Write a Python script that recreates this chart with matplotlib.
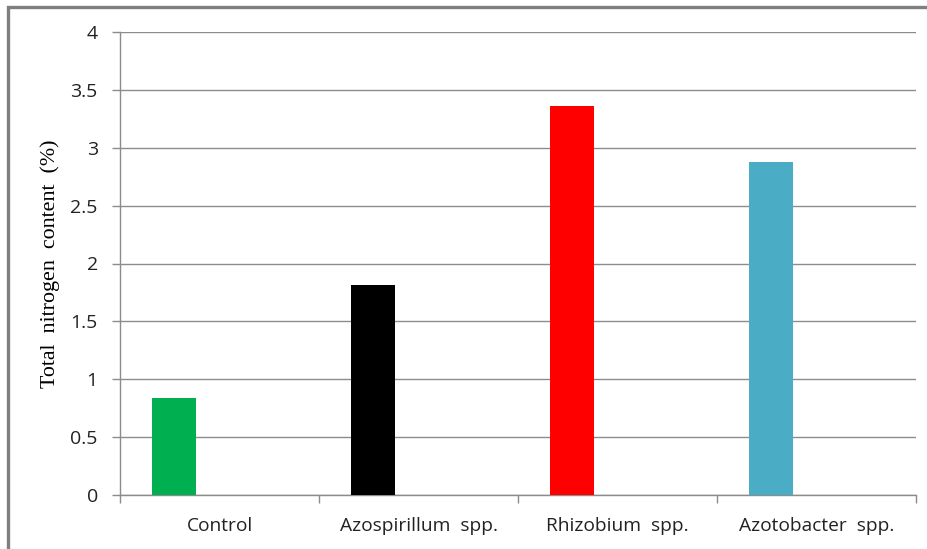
import matplotlib
matplotlib.use("Agg")
import matplotlib.pyplot as plt
from matplotlib.patches import Rectangle

categories = ["Control", "Azospirillum  spp.", "Rhizobium  spp.", "Azotobacter  spp."]
nitrogen = [0.84, 1.81, 3.36, 2.88]
bar_colors = ["#00B050", "#000000", "#FF0000", "#4BACC6"]
y_ticks = [0, 0.5, 1, 1.5, 2, 2.5, 3, 3.5, 4]
y_tick_labels = ["0", "0.5", "1", "1.5", "2", "2.5", "3", "3.5", "4"]

grid_color = "#8c8c8c"

fig = plt.figure(figsize=(9.28, 5.49), dpi=100)
ax = fig.add_axes([120 / 928, 54 / 549, 796 / 928, 463 / 549])

# frame around the chart area
fig.patches.append(Rectangle((8 / 928, -0.1), 1.2, (549 - 7) / 549 + 0.1,
                             transform=fig.transFigure, fill=False,
                             edgecolor="#7f7f7f", linewidth=2.4))

x = list(range(len(categories)))
offset = -0.228
width = 0.221
ax.bar([i + offset for i in x], nitrogen, width=width, color=bar_colors, zorder=3)

ax.set_xlim(-0.5, len(categories) - 0.5)
ax.set_ylim(0, 4)
ax.set_yticks(y_ticks)
ax.set_yticklabels(y_tick_labels, fontfamily="Open Sans", fontsize=14, color="#222222")
ax.yaxis.grid(True, color=grid_color, linewidth=1, zorder=0)

ax.set_xticks(x)
ax.set_xticklabels(categories, fontfamily="Open Sans", fontsize=13.8, color="#222222")
ax.tick_params(axis="x", length=0, pad=16)
ax.set_xticks([i - 0.5 for i in range(len(categories) + 1)], minor=True)
ax.tick_params(axis="x", which="minor", length=6, color=grid_color, width=1)
ax.tick_params(axis="y", length=6, color=grid_color, width=1, pad=10)

for side in ["top", "right"]:
    ax.spines[side].set_visible(False)
for side in ["left", "bottom"]:
    ax.spines[side].set_color(grid_color)
    ax.spines[side].set_linewidth(1)

ax.set_ylabel("Total  nitrogen  content  (%)", fontfamily="Liberation Serif",
              fontsize=15.8)
ax.yaxis.set_label_coords((60 - 120) / 796, 0.5)

fig.savefig("out.png", dpi=100)
